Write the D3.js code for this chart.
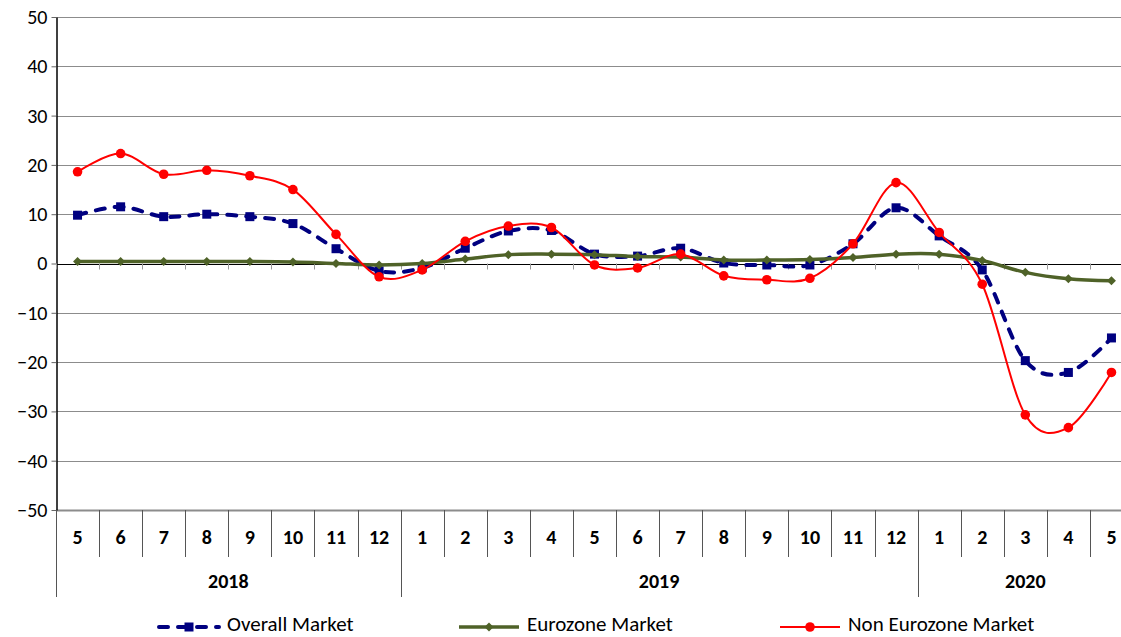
<!DOCTYPE html>
<html>
<head>
<meta charset="utf-8">
<script src="https://cdn.jsdelivr.net/npm/d3@7"></script>
<style>
  body { margin: 0; background: #fff; }
  svg { display: block; font-family: Carlito, Lato, "Open Sans", sans-serif; }
</style>
</head>
<body>
<div id="chart"></div>
<script>
// months shown along the bottom, May 2018 .. May 2020
const months = [5, 6, 7, 8, 9, 10, 11, 12, 1, 2, 3, 4, 5, 6, 7, 8, 9, 10, 11, 12, 1, 2, 3, 4, 5]
const years = [
  { label: "2018", from: 0, to: 8 },
  { label: "2019", from: 8, to: 20 },
  { label: "2020", from: 20, to: 25 }
]
const yTicks = [50, 40, 30, 20, 10, 0, -10, -20, -30, -40, -50]

const overallMarket = [9.8, 11.5, 9.5, 10.0, 9.5, 8.1, 3.0, -1.5, -0.9, 3.1, 6.6, 6.7, 1.9, 1.5, 3.1, 0.1, -0.3, -0.3, 4.0, 11.3, 5.6, -1.3, -19.7, -22.1, -15.1]
const eurozoneMarket = [0.4, 0.4, 0.4, 0.4, 0.4, 0.3, 0.0, -0.3, 0.0, 0.9, 1.8, 1.9, 1.8, 1.4, 1.3, 0.7, 0.7, 0.8, 1.2, 1.9, 1.9, 0.6, -1.8, -3.1, -3.5]
const nonEurozoneMarket = [18.6, 22.3, 18.1, 18.9, 17.8, 15.0, 5.9, -2.7, -1.3, 4.5, 7.6, 7.3, -0.3, -0.9, 1.9, -2.5, -3.3, -3.0, 4.0, 16.4, 6.3, -4.2, -30.7, -33.3, -22.1]

const width = 1121, height = 637

const svg = d3.select("#chart").append("svg")
  .attr("width", width)
  .attr("height", height)

const x = d3.scaleBand()
  .domain(d3.range(months.length))
  .range([56, 1133])
const bw = x.bandwidth()
const cx = i => x(i) + bw / 2

const y = d3.scaleLinear().domain([-50, 50]).range([510, 17])

/** grid */
svg.append("g").selectAll("line")
  .data(yTicks)
  .join("line")
  .attr("x1", 56).attr("x2", 1133)
  .attr("y1", d => Math.round(y(d)) + 0.5)
  .attr("y2", d => Math.round(y(d)) + 0.5)
  .attr("stroke", d => d === 0 ? "#000" : "#8c8c8c")
  .attr("stroke-width", d => d === -50 ? 2 : 1)

// y axis with labels
const yAxis = svg.append("g")
  .attr("transform", "translate(56.5,0)")
  .call(d3.axisLeft(y).tickValues(yTicks).tickSize(5).tickPadding(4).tickSizeOuter(0))
yAxis.select(".domain").attr("stroke", "#000").attr("stroke-width", 1.5)
yAxis.selectAll(".tick line").attr("stroke", "#666")
yAxis.selectAll("text")
  .attr("font-size", 20)
  .attr("fill", "#000")
  .style("font-family", "Carlito, Lato, sans-serif")

// small ticks on the zero line
svg.append("g").selectAll("line")
  .data(d3.range(months.length + 1))
  .join("line")
  .attr("x1", i => Math.round(56 + i * bw) + 0.5)
  .attr("x2", i => Math.round(56 + i * bw) + 0.5)
  .attr("y1", y(0))
  .attr("y2", y(0) + 6)
  .attr("stroke", "#999")

/** category axis (months + years) */
const cat = svg.append("g")
cat.selectAll("line.m")
  .data(d3.range(months.length + 1))
  .join("line")
  .attr("class", "m")
  .attr("x1", i => Math.round(56 + i * bw) + 0.5)
  .attr("x2", i => Math.round(56 + i * bw) + 0.5)
  .attr("y1", 510).attr("y2", 557)
  .attr("stroke", "#555")

const yearEdges = [0].concat(years.map(d => d.to))
cat.selectAll("line.y")
  .data(yearEdges)
  .join("line")
  .attr("class", "y")
  .attr("x1", i => Math.round(56 + i * bw) + 0.5)
  .attr("x2", i => Math.round(56 + i * bw) + 0.5)
  .attr("y1", 557).attr("y2", 597)
  .attr("stroke", "#555")

cat.selectAll("text.m")
  .data(months)
  .join("text")
  .attr("class", "m")
  .attr("x", (d, i) => cx(i))
  .attr("y", 544)
  .attr("text-anchor", "middle")
  .attr("font-size", 20)
  .attr("font-weight", "bold")
  .text(d => d)

cat.selectAll("text.y")
  .data(years)
  .join("text")
  .attr("class", "y")
  .attr("x", d => 56 + (d.from + d.to) / 2 * bw)
  .attr("y", 588)
  .attr("text-anchor", "middle")
  .attr("font-size", 20)
  .attr("font-weight", "bold")
  .text(d => d.label)

/** series */
const line = d3.line()
  .x((d, i) => cx(i))
  .y(d => y(d))
  .curve(d3.curveCardinal.tension(0))

const series = [
  { name: "Overall Market", values: overallMarket, color: "#000080", width: 4, dash: "9,10", marker: "square", legendX: 157 },
  { name: "Eurozone Market", values: eurozoneMarket, color: "#4f6228", width: 3.5, dash: null, marker: "diamond", legendX: 457 },
  { name: "Non Eurozone Market", values: nonEurozoneMarket, color: "#ff0000", width: 2, dash: null, marker: "circle", legendX: 778 }
]

function drawMarker(g, type, color) {
  if (type === "square") {
    g.append("rect").attr("x", -4.5).attr("y", -4.5).attr("width", 9).attr("height", 9).attr("fill", color)
  }
  else if (type === "diamond") {
    g.append("path").attr("d", "M0,-4.5L4.5,0L0,4.5L-4.5,0Z").attr("fill", color)
  }
  else {
    g.append("circle").attr("r", 4.8).attr("fill", color)
  }
}

series.forEach(s => {
  const g = svg.append("g")
  g.append("path")
    .attr("d", line(s.values))
    .attr("fill", "none")
    .attr("stroke", s.color)
    .attr("stroke-width", s.width)
    .attr("stroke-linecap", s.dash ? "round" : "butt")
    .attr("stroke-dasharray", s.dash)
  s.values.forEach((v, i) => {
    const m = g.append("g").attr("transform", `translate(${cx(i)},${y(v)})`)
    drawMarker(m, s.marker, s.color)
  })
})

/** legend */
const legend = svg.append("g")
series.forEach(s => {
  const lg = legend.append("g")
  lg.append("line")
    .attr("x1", s.legendX + 2).attr("x2", s.legendX + 62)
    .attr("y1", 627).attr("y2", 627)
    .attr("stroke", s.color)
    .attr("stroke-width", s.width)
    .attr("stroke-linecap", s.dash ? "round" : "butt")
    .attr("stroke-dasharray", s.dash)
  const m = lg.append("g").attr("transform", `translate(${s.legendX + 32},627)`)
  drawMarker(m, s.marker, s.color)
  lg.append("text")
    .attr("x", s.legendX + 70)
    .attr("y", 631)
    .attr("font-size", 21)
    .attr("fill", "#000")
    .text(s.name)
})
</script>
</body>
</html>
